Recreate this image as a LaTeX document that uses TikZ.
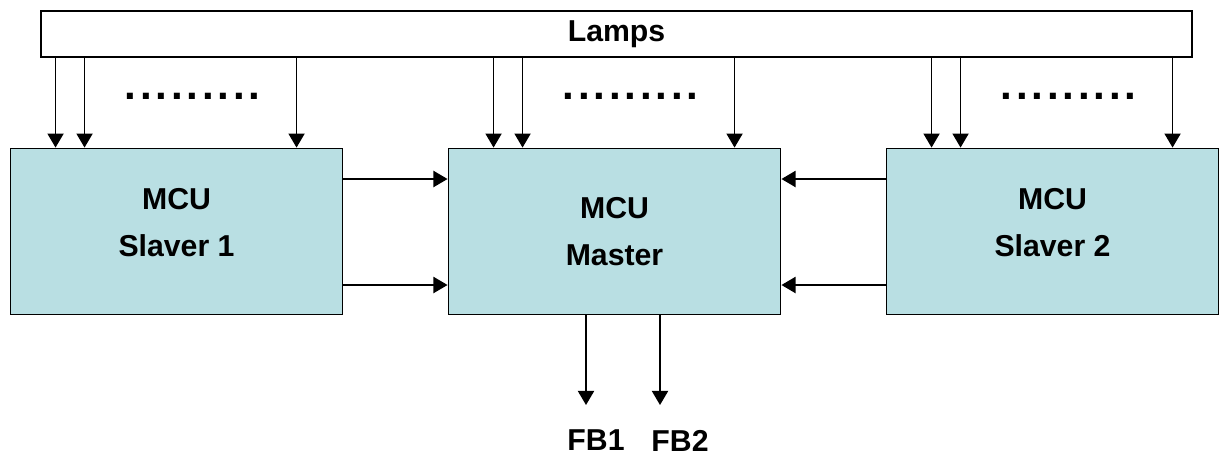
\documentclass[tikz,border=0pt]{standalone}
\usepackage{fontspec}
\setmainfont{Liberation Sans}
\usepackage{tikz}
\usepackage{xcolor}
\usetikzlibrary{arrows.meta}
\usetikzlibrary{positioning, calc}
\definecolor{mcufill}{RGB}{185,223,227}

\begin{document}
\begin{tikzpicture}[x=0.025cm, y=-0.025cm,
    lbl/.style={font=\fontsize{21.5}{33.4}\selectfont\bfseries},
    mcu/.style={draw, line width=1.3pt, fill=mcufill, minimum width=8.3cm, minimum height=4.15cm, inner sep=0pt, align=center, lbl},
    arr/.style={line width=1pt, -{Triangle[length=10pt, width=11.5pt]}},
    dotrow/.style={font=\fontsize{30}{30}\selectfont\bfseries\addfontfeature{LetterSpace=9}, inner sep=0pt}]
    \useasboundingbox (0,0) rectangle (1220,455);
    \node[draw, line width=1.3pt, minimum width=28.775cm, minimum height=1.15cm, lbl] (lamps) at (616.5,34) {Lamps};
    \node[mcu, text depth=13.5pt] (s1) at (176.5,231.5) {MCU\\Slaver 1};
    \node[mcu] (ms) at (614.5,231.5) {MCU\\Master};
    \node[mcu, text depth=13.5pt] (s2) at (1052.5,231.5) {MCU\\Slaver 2};
    % lamp lines into each MCU
    \foreach \b in {s1,ms,s2} {
        \foreach \dx in {46,75,287} {
            \coordinate (t) at ($(\b.north west)+(\dx,0)$);
            \draw[arr] (lamps.south -| t) -- (t);
        }
        \node[dotrow] at ($(\b.north west)+(183,-51)$) {.........};
    }
    % slaves to master
    \draw[arr] (s1.east |- 0,179) -- (ms.west |- 0,179);
    \draw[arr] (s1.east |- 0,285) -- (ms.west |- 0,285);
    \draw[arr] (s2.west |- 0,179) -- (ms.east |- 0,179);
    \draw[arr] (s2.west |- 0,285) -- (ms.east |- 0,285);
    % feedback outputs
    \coordinate (fb1) at (586,405);
    \coordinate (fb2) at (660,405);
    \draw[arr] (ms.south -| fb1) -- (fb1);
    \draw[arr] (ms.south -| fb2) -- (fb2);
    \node[lbl, anchor=base, inner sep=0pt] (fb1lbl) at (596,450.5) {FB1};
    \node[lbl, anchor=base, inner sep=0pt] (fb2lbl) at (680,451.5) {FB2};
\end{tikzpicture}
\end{document}
